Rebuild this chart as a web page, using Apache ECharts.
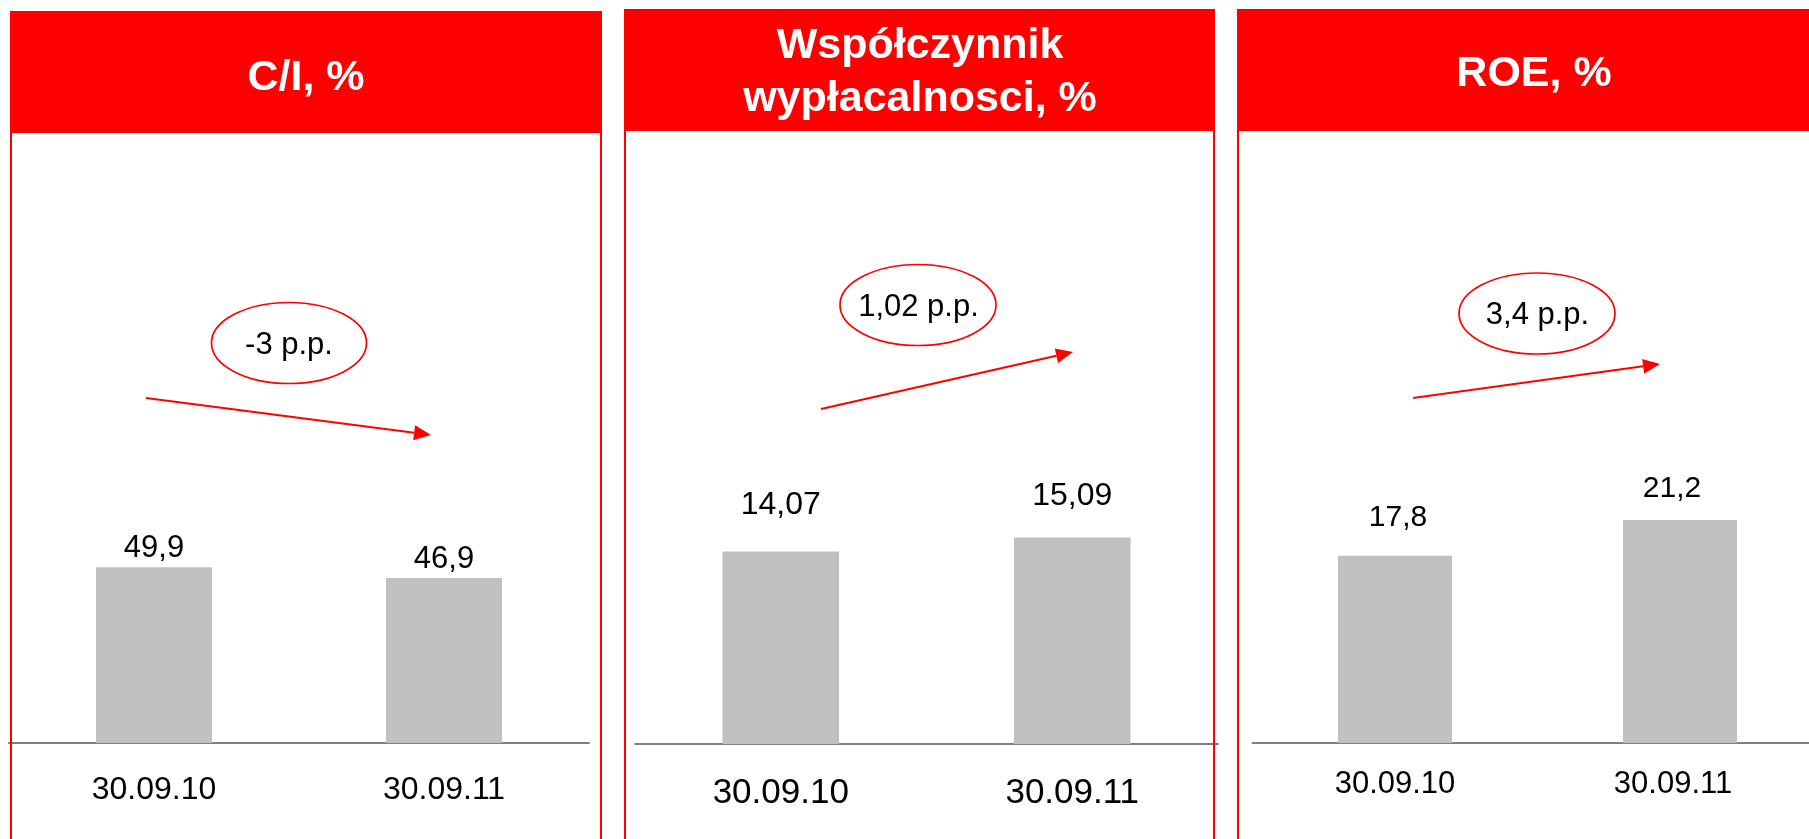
<!DOCTYPE html>
<html>
<head>
<meta charset="utf-8">
<script src="https://cdn.jsdelivr.net/npm/echarts@6/dist/echarts.min.js"></script>
<style>
html,body{margin:0;padding:0;background:#fff;}
#chart{width:1809px;height:839px;}
</style>
</head>
<body>
<div id="chart"></div>
<script>
// ---- data ----
const categories = ['30.09.10', '30.09.11'];
const panelTitles = ['C/I, %', 'Współczynnik\nwypłacalnosci, %', 'ROE, %'];
const ciValues = [49.9, 46.9];
const solvencyValues = [14.07, 15.09];
const roeValues = [17.8, 21.2];
const changeLabels = ['-3 p.p.', '1,02 p.p.', '3,4 p.p.'];

// ---- layout / style ----
const FONT = '"Liberation Sans", Arial, sans-serif';
const RED = '#ff0000';
const layout = [
  { grid:{left:9, width:580, top:143, height:600}, yMax:170.45,
    header:{x:10, y:11, w:592, h:122}, borders:[11, 601], borderTop:133,
    titleX:306, titleY:78,
    ellipse:{cx:289, cy:343, rx:77.5, ry:40.5}, changeX:289, changeY:345,
    arrow:[[146,398],[431,435]],
    valueFont:31, labelDist:[3, 3], labelOffset:[[0,0],[0,0]], catFont:32, catMargin:31 },
  { grid:{left:635, width:583, top:144, height:600}, yMax:43.83,
    header:{x:624, y:9, w:591, h:122}, borders:[625, 1214], borderTop:131,
    titleX:920, titleY:73,
    ellipse:{cx:918, cy:305, rx:78, ry:40.5}, changeX:918.5, changeY:307,
    arrow:[[821,409],[1073,352]],
    valueFont:32, labelDist:[30, 25], labelOffset:[[0,0],[0,0]], catFont:35, catMargin:32 },
  { grid:{left:1252.5, width:556.5, top:143, height:600}, yMax:57.06,
    xRange:[-0.5, 1.4526], barPx:114, catPadRight:[0, 14],
    header:{x:1237, y:9, w:600, h:122}, borders:[1238], borderTop:131,
    titleX:1534, titleY:74,
    ellipse:{cx:1537, cy:313.5, rx:78, ry:40.5}, changeX:1537.5, changeY:315,
    arrow:[[1413,398],[1660,364]],
    valueFont:30, labelDist:[23, 16], labelOffset:[[3,0],[-8,0]], catFont:31, catMargin:26 }
];
const seriesValues = [ciValues, solvencyValues, roeValues];

function fmt(v){ return String(v).replace('.', ','); }

const grids = [], xAxes = [], yAxes = [], series = [], graphics = [];
layout.forEach((L, i) => {
  grids.push(Object.assign({containLabel:false}, L.grid));
  const axisLine = {show:true, lineStyle:{color:'#808080', width:2}};
  const axisLabel = {color:'#000', fontSize:L.catFont, fontFamily:FONT, margin:L.catMargin};
  if (L.xRange) {
    const rich = {};
    categories.forEach((c, k) => {
      rich['c' + k] = {fontSize:L.catFont, fontFamily:FONT, color:'#000', padding:[0, L.catPadRight[k], 0, 0]};
    });
    xAxes.push({
      type:'value', gridIndex:i, min:L.xRange[0], max:L.xRange[1],
      axisLine:axisLine, axisTick:{show:false}, splitLine:{show:false},
      axisLabel:Object.assign({}, axisLabel, {
        customValues: categories.map((c, k) => k),
        formatter: (v) => { const k = Math.round(v); return '{c' + k + '|' + categories[k] + '}'; },
        rich: rich
      })
    });
  } else {
    xAxes.push({
      type:'category', gridIndex:i, data:categories,
      axisLine:axisLine, axisTick:{show:false}, axisLabel:axisLabel
    });
  }
  yAxes.push({type:'value', gridIndex:i, min:0, max:L.yMax, show:false, splitLine:{show:false}});
  series.push({
    type:'bar', xAxisIndex:i, yAxisIndex:i, barWidth: L.barPx ? L.barPx : '40%',
    itemStyle:{color:'#c0c0c0'},
    data: seriesValues[i].map((v, j) => ({
      value: L.xRange ? [j, v] : v,
      label:{show:true, position:'top', distance:L.labelDist[j], offset:L.labelOffset[j],
             formatter:(p)=>fmt(Array.isArray(p.value) ? p.value[1] : p.value), color:'#000',
             fontSize:L.valueFont, fontFamily:FONT}
    }))
  });

  // header
  graphics.push({type:'rect', z:10, shape:{x:L.header.x, y:L.header.y, width:L.header.w, height:L.header.h},
                 style:{fill:RED}});
  graphics.push({type:'text', z:11, style:{text:panelTitles[i], x:L.titleX, y:L.titleY,
                 textAlign:'center', textVerticalAlign:'middle', fill:'#fff',
                 font:'bold 43px ' + FONT, lineHeight:53}});
  // side borders
  L.borders.forEach(bx => {
    graphics.push({type:'line', z:12, shape:{x1:bx, y1:L.borderTop, x2:bx, y2:839},
                   style:{stroke:RED, lineWidth:2}});
  });
  // ellipse with change label
  graphics.push({type:'ellipse', z:10, shape:L.ellipse, style:{fill:'#fff', stroke:RED, lineWidth:1.7}});
  graphics.push({type:'text', z:11, style:{text:changeLabels[i], x:L.changeX, y:L.changeY,
                 textAlign:'center', textVerticalAlign:'middle', fill:'#000',
                 font:'31px ' + FONT}});
  // arrow
  const [p0, p1] = L.arrow;
  const dx = p1[0]-p0[0], dy = p1[1]-p0[1], len = Math.hypot(dx, dy);
  const ux = dx/len, uy = dy/len, hl = 17, hw = 7.5;
  const bx = p1[0]-ux*hl, by = p1[1]-uy*hl;
  graphics.push({type:'line', z:10, shape:{x1:p0[0], y1:p0[1], x2:bx, y2:by},
                 style:{stroke:RED, lineWidth:2}});
  graphics.push({type:'polygon', z:10, shape:{points:[[p1[0],p1[1]],[bx-uy*hw, by+ux*hw],[bx+uy*hw, by-ux*hw]]},
                 style:{fill:RED}});
});

const chart = echarts.init(document.getElementById('chart'), null, {renderer:'canvas'});
chart.setOption({
  backgroundColor:'#fff',
  animation:false,
  grid:grids, xAxis:xAxes, yAxis:yAxes, series:series,
  graphic:{elements:graphics}
});
</script>
</body>
</html>
